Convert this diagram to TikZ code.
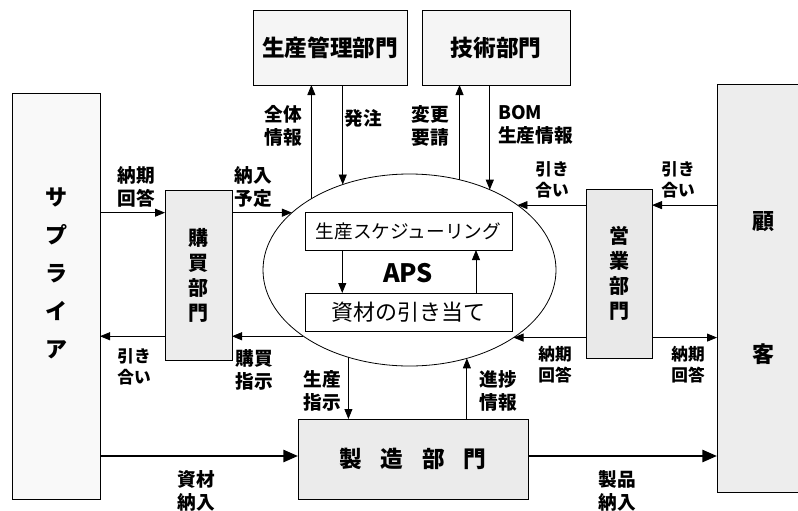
\documentclass[tikz,border=0pt]{standalone}
\usepackage{fontspec}
\setmainfont{Noto Sans CJK JP}
\usepackage{tikz}
\usetikzlibrary{shapes.geometric, arrows.meta, calc}
\tikzstyle{dept} = [rectangle, draw=black, line width=0.6pt, text centered, inner sep=0pt, outer sep=0pt, font=\bfseries\fontsize{17}{20}\selectfont]
\tikzstyle{tall} = [dept, align=center, font=\bfseries\fontsize{15}{18.75}\selectfont]
\tikzstyle{task} = [rectangle, draw=black, line width=0.6pt, fill=white, inner sep=0pt, outer sep=0pt, minimum width=155.25pt, minimum height=28.5pt]
\tikzstyle{arrow} = [line width=0.6pt, -{Triangle[length=7.5pt,width=6pt]}]
\tikzstyle{bigarrow} = [line width=2pt, -{Triangle[length=11pt,width=9pt]}]
\tikzstyle{lbl} = [align=center, inner sep=0pt, font=\bfseries\fontsize{14}{17.25}\selectfont]
\tikzstyle{slbl} = [lbl, font=\bfseries\fontsize{12.5}{15.75}\selectfont]

\begin{document}
\begin{tikzpicture}[x=0.75pt, y=-0.75pt]
    \path[use as bounding box, clip] (0,0) rectangle (798,510);

    % Outside parties
    \node[dept, fill=gray!5, minimum width=66pt, minimum height=304.5pt] (sup) at (56, 296) {};
    \node[lbl, font=\bfseries\fontsize{16.5}{28.5}\selectfont] (suptext) at (56, 273) {サ\\プ\\ラ\\イ\\ア};
    \node[dept, fill=gray!14, minimum width=69.75pt, minimum height=306pt, align=center, font=\bfseries\fontsize{16.5}{100}\selectfont] (kokyaku) at (763.5, 288) {顧\\客};

    % Departments
    \node[tall, fill=gray!15, minimum width=50.25pt, minimum height=127.5pt] (kobai) at (198.5, 275) {購\\買\\部\\門};
    \node[tall, fill=gray!17, minimum width=49.5pt, minimum height=126.75pt] (eigyo) at (619, 273.5) {営\\業\\部\\門};
    \node[dept, fill=gray!8, minimum width=115.5pt, minimum height=56.25pt] (kanri) at (330, 47.5) {生産管理部門};
    \node[dept, fill=gray!8, minimum width=111pt, minimum height=56.25pt] (gijutsu) at (496, 47.5) {技術部門};
    \node[dept, fill=gray!16, minimum width=172.5pt, minimum height=60pt] (seizo) at (413, 459) {製\hspace{14pt}造\hspace{14pt}部\hspace{14pt}門};

    % APS
    \node[ellipse, draw=black, line width=0.6pt, fill=white, inner sep=0pt, outer sep=0pt, minimum width=219.75pt, minimum height=144pt] (aps) at (409.5, 270) {};
    \node[font=\bfseries\fontsize{19}{22}\selectfont] (apstext) at (408, 273) {APS};
    \node[task, font=\fontsize{14}{17}\selectfont] (sched) at (408.5, 231) {生産スケジューリング};
    \node[task, font=\fontsize{16.5}{19}\selectfont] (alloc) at (408.5, 312) {資材の引き当て};

    % Arrows - inside APS
    \draw[arrow] ($(sched.south west)!0.18!(sched.south east)$) -- ($(alloc.north west)!0.18!(alloc.north east)$);
    \draw[arrow] ($(alloc.north west)!0.826!(alloc.north east)$) -- ($(sched.south west)!0.826!(sched.south east)$);

    % Arrows - left side
    \draw[arrow] (sup.east |- aps.154.2) -- (kobai.west |- aps.154.2);
    \draw[arrow] (kobai.east |- aps.154.2) -- (aps.154.2);
    \draw[arrow] (aps.212.6) -- (kobai.east |- aps.212.6);
    \draw[arrow] (kobai.west |- aps.212.6) -- (sup.east |- aps.212.6);

    % Arrows - top
    \draw[arrow] (aps.144.2) -- (aps.144.2 |- kanri.south);
    \draw[arrow] (aps.128.9 |- kanri.south) -- (aps.128.9);
    \draw[arrow] (aps.61.3) -- (aps.61.3 |- gijutsu.south);
    \draw[arrow] (aps.45.9 |- gijutsu.south) -- (aps.45.9);

    % Arrows - right side
    \draw[arrow] (kokyaku.west |- aps.31.8) -- (eigyo.east |- aps.31.8);
    \draw[arrow] (eigyo.west |- aps.31.8) -- (aps.31.8);
    \draw[arrow, {Triangle[length=7.5pt,width=6pt]}-] (aps.327.4) -- (eigyo.west |- aps.327.4);
    \draw[arrow] (eigyo.east |- aps.327.4) -- (kokyaku.west |- aps.327.4);

    % Arrows - bottom
    \draw[arrow] (aps.235.8) -- (aps.235.8 |- seizo.north);
    \draw[arrow] (aps.303.6 |- seizo.north) -- (aps.303.6);
    \draw[bigarrow] (sup.east |- 0,456) -- (seizo.west |- 0,456);
    \draw[bigarrow] (seizo.east |- 0,456) -- (kokyaku.west |- 0,456);

    % Labels
    \node[lbl] (l1) at (136, 186.5) {納期\\回答};
    \node[lbl] (l2) at (253, 186.5) {納入\\予定};
    \node[slbl] (l3) at (134, 367) {引き\\合い};
    \node[lbl] (l4) at (254, 370) {購買\\指示};
    \node[lbl] (l5) at (283, 126) {全体\\情報};
    \node[lbl] (l6) at (363, 118) {発注};
    \node[lbl] (l7) at (430, 126) {変更\\要請};
    \node[lbl, align=left, anchor=west] (l8) at (498, 125) {BOM\\生産情報};
    \node[slbl] (l9) at (552, 180) {引き\\合い};
    \node[slbl] (l10) at (678, 180) {引き\\合い};
    \node[slbl] (l11) at (555, 364.5) {納期\\回答};
    \node[slbl] (l12) at (688, 364.5) {納期\\回答};
    \node[lbl] (l13) at (322, 390.5) {生産\\指示};
    \node[lbl] (l14) at (498, 390.5) {進捗\\情報};
    \node[lbl] (l15) at (196, 491) {資材\\納入};
    \node[lbl] (l16) at (617, 491) {製品\\納入};
\end{tikzpicture}
\end{document}
